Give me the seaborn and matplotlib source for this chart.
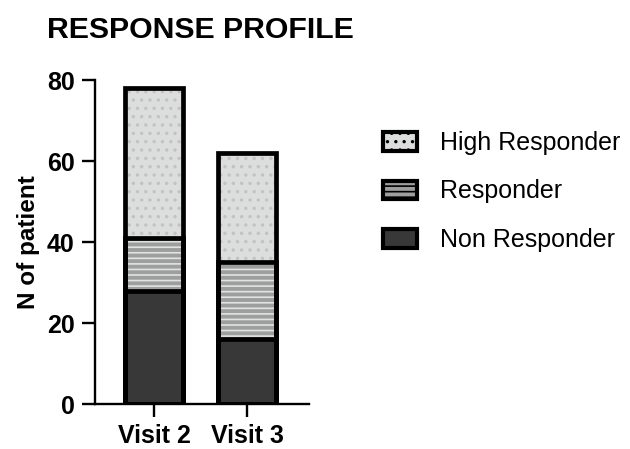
import numpy as np
import pandas as pd
import seaborn as sns
import matplotlib.pyplot as plt
from matplotlib.patches import Patch

visits = ['Visit 2', 'Visit 3']
non_responder = [28, 16]
responder = [13, 19]
high_responder = [37, 27]

sns.set_style('ticks')
plt.rcParams['font.family'] = ['Liberation Sans', 'DejaVu Sans']
plt.rcParams['hatch.linewidth'] = 1.2
plt.rcParams['text.color'] = 'black'
plt.rcParams['axes.labelcolor'] = 'black'
plt.rcParams['xtick.color'] = 'black'
plt.rcParams['ytick.color'] = 'black'
plt.rcParams['axes.edgecolor'] = 'black'

df = pd.DataFrame({'visit': visits,
                   'non': non_responder,
                   'resp': responder,
                   'high': high_responder})
df['cum_resp'] = df['non'] + df['resp']
df['cum_high'] = df['cum_resp'] + df['high']

fig = plt.figure(figsize=(6.3, 4.49), dpi=100)
ax = fig.add_axes([0.1508, 0.1002, 0.3397, 0.7216])

# (column, face colour, hatch, hatch colour, label)
layers = [
    ('cum_high', '#dcdddd', '..', '#c2c2c2', 'High Responder'),
    ('cum_resp', '#9d9e9e', '---', '#e2e2e2', 'Responder'),
    ('non', '#383838', None, '#383838', 'Non Responder'),
]

bw = 0.62
for col, face, hatch, hcol, lab in layers:
    # filled, hatched layer
    sns.barplot(data=df, x='visit', y=col, ax=ax, width=bw,
                facecolor=face, edgecolor=hcol, hatch=hatch,
                linewidth=0, errorbar=None, zorder=2)
    # thick black outline
    sns.barplot(data=df, x='visit', y=col, ax=ax, width=bw,
                facecolor='none', edgecolor='black',
                linewidth=3.4, errorbar=None, zorder=3)

ax.set_xlim(-0.634, 1.667)
ax.set_ylim(0, 80)
ax.set_yticks([0, 20, 40, 60, 80])
ax.set_xlabel('')
ax.set_ylabel('N of patient', fontsize=17.5, fontweight='bold', labelpad=5)
sns.despine(ax=ax)
for s in ['left', 'bottom']:
    ax.spines[s].set_linewidth(1.7)
    ax.spines[s].set_zorder(4)
ax.tick_params(axis='both', length=9.5, width=1.7, labelsize=18, pad=5)
for t in ax.get_xticklabels() + ax.get_yticklabels():
    t.set_fontweight('bold')

fig.text(47 / 630, 1 - 38 / 449, 'RESPONSE PROFILE', fontsize=21.8,
         fontweight='bold', ha='left', va='baseline')

handles = []
for col, face, hatch, hcol, lab in layers:
    handles.append(Patch(facecolor=face, edgecolor='black', hatch=hatch,
                         linewidth=3, label=lab))
leg = fig.legend(handles=handles, loc='upper left',
                 bbox_to_anchor=(383 / 630, 1 - 131 / 449),
                 frameon=False, fontsize=18, handlelength=1.36,
                 handleheight=0.76, handletextpad=0.92, labelspacing=0.98,
                 borderaxespad=0, borderpad=0)

fig.savefig('out.png', dpi=100)
